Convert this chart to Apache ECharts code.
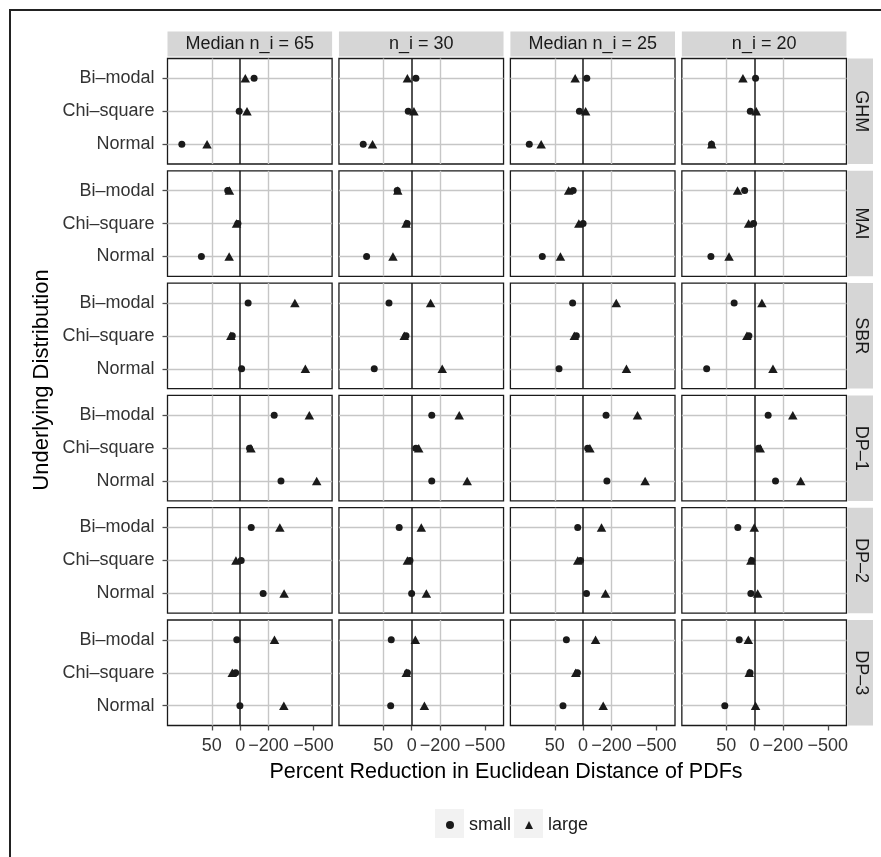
<!DOCTYPE html>
<html>
<head>
<meta charset="utf-8">
<script src="https://cdn.jsdelivr.net/npm/echarts@6/dist/echarts.min.js"></script>
<style>
html,body{margin:0;padding:0;background:#fff;}
#chart{width:881px;height:857px;}
</style>
</head>
<body>
<div id="chart"></div>
<script>
// ---------- data (x values on the axis' log2 distance-ratio scale) ----------
const COL_LABELS = ['Median n_i = 65', 'n_i = 30', 'Median n_i = 25', 'n_i = 20'];
const ROW_LABELS = ['GHM', 'MAI', 'SBR', 'DP\u20131', 'DP\u20132', 'DP\u20133'];
const DISTRIBUTIONS = ['Bi\u2013modal', 'Chi\u2013square', 'Normal'];
const X_TICK_VALUES = [-1, 0, 1, 2.585];
const X_TICK_LABELS = ['50', '0', '\u2212200', '\u2212500'];
const X_GRID_VALUES = [-1, 1];
const Y_POSITIONS = [0, 1, 2];

// each inner array = one column panel: [Bi-modal, Chi-square, Normal]
const GHM_small = [[0.49, -0.035, -2.06], [0.15, -0.12, -1.71], [0.13, -0.13, -1.90], [0.035, -0.15, -1.52]];
const GHM_large = [[0.18, 0.24, -1.17], [-0.15, 0.08, -1.38], [-0.28, 0.09, -1.48], [-0.41, 0.06, -1.51]];
const MAI_small = [[-0.44, -0.08, -1.37], [-0.51, -0.16, -1.59], [-0.35, 0.0, -1.44], [-0.35, -0.035, -1.54]];
const MAI_large = [[-0.38, -0.13, -0.39], [-0.49, -0.20, -0.66], [-0.51, -0.15, -0.80], [-0.60, -0.21, -0.90]];
const SBR_small = [[0.28, -0.28, 0.05], [-0.80, -0.20, -1.32], [-0.37, -0.24, -0.85], [-0.72, -0.20, -1.69]];
const SBR_large = [[1.93, -0.33, 2.30], [0.67, -0.26, 1.08], [1.17, -0.31, 1.53], [0.26, -0.27, 0.65]];
const DP1_small = [[1.20, 0.33, 1.44], [0.71, 0.15, 0.71], [0.81, 0.16, 0.84], [0.48, 0.14, 0.74]];
const DP1_large = [[2.44, 0.38, 2.70], [1.68, 0.25, 1.96], [1.92, 0.24, 2.19], [1.35, 0.20, 1.63]];
const DP2_small = [[0.39, 0.035, 0.81], [-0.44, -0.06, 0.0], [-0.19, -0.09, 0.12], [-0.59, -0.10, -0.13]];
const DP2_large = [[1.40, -0.15, 1.55], [0.34, -0.15, 0.52], [0.65, -0.19, 0.79], [-0.01, -0.13, 0.11]];
const DP3_small = [[-0.12, -0.16, -0.01], [-0.72, -0.15, -0.74], [-0.59, -0.20, -0.71], [-0.54, -0.16, -1.05]];
const DP3_large = [[1.21, -0.28, 1.54], [0.13, -0.19, 0.45], [0.44, -0.26, 0.71], [-0.22, -0.19, 0.035]];

const SMALL = [GHM_small, MAI_small, SBR_small, DP1_small, DP2_small, DP3_small];
const LARGE = [GHM_large, MAI_large, SBR_large, DP1_large, DP2_large, DP3_large];

// ---------- layout ----------
const FONT = "'Liberation Sans', Arial, Helvetica, sans-serif";
const LEFT0 = 167.5, COL_STEP = 171.45, PANEL_W = 164.6;
const TOP0 = 58.5, ROW_STEP = 112.3, PANEL_H = 105.5;
const X_MIN = -2.566, X_MAX = 3.244;
const INK = '#1a1a1a';

function tickLabel(v) {
  let best = 0, d = Infinity;
  X_TICK_VALUES.forEach((t, i) => { const dd = Math.abs(t - v); if (dd < d) { d = dd; best = i; } });
  return X_TICK_LABELS[best];
}

const grids = [], xAxes = [], yAxes = [], series = [], graphics = [];

for (let r = 0; r < ROW_LABELS.length; r++) {
  for (let c = 0; c < COL_LABELS.length; c++) {
    const idx = r * COL_LABELS.length + c;
    const left = LEFT0 + c * COL_STEP;
    const top = TOP0 + r * ROW_STEP;
    grids.push({
      left: left, top: top, width: PANEL_W, height: PANEL_H,
      show: true, borderColor: INK, borderWidth: 1.3, backgroundColor: '#fff'
    });
    xAxes.push({
      type: 'value', gridIndex: idx, min: X_MIN, max: X_MAX, position: 'bottom',
      axisLine: { show: false, onZero: false }, splitLine: { show: false },
      axisTick: { show: r === ROW_LABELS.length - 1, customValues: X_TICK_VALUES, length: 5, lineStyle: { color: '#4d4d4d', width: 1.3 } },
      axisLabel: { show: r === ROW_LABELS.length - 1, customValues: X_TICK_VALUES, formatter: tickLabel, margin: 12, fontSize: 18, color: '#333', fontFamily: FONT }
    });
    yAxes.push({
      type: 'value', gridIndex: idx, inverse: true, min: -0.6, max: 2.6, position: 'left',
      axisLine: { show: false, onZero: false }, splitLine: { show: false },
      axisTick: { show: c === 0, customValues: Y_POSITIONS, length: 5, lineStyle: { color: '#4d4d4d', width: 1.3 } },
      axisLabel: { show: c === 0, customValues: Y_POSITIONS, formatter: v => DISTRIBUTIONS[Math.round(v)], margin: 13, fontSize: 18, color: '#333', fontFamily: FONT }
    });
    const guideLines = [];
    Y_POSITIONS.forEach(y => guideLines.push({ yAxis: y, lineStyle: { color: '#c6c6c6', width: 1.4, type: 'solid' } }));
    X_GRID_VALUES.forEach(x => guideLines.push({ xAxis: x, lineStyle: { color: '#c6c6c6', width: 1.4, type: 'solid' } }));
    guideLines.push({ xAxis: 0, lineStyle: { color: INK, width: 1.5, type: 'solid' } });
    series.push({
      type: 'line', name: 'guides', xAxisIndex: idx, yAxisIndex: idx, data: [], silent: true,
      markLine: { z: 1, silent: true, symbol: ['none', 'none'], label: { show: false }, emphasis: { disabled: true }, animation: false, data: guideLines }
    });
    series.push({
      type: 'scatter', name: 'small', xAxisIndex: idx, yAxisIndex: idx, z: 3,
      symbol: 'circle', symbolSize: 7, itemStyle: { color: INK, opacity: 1 },
      data: SMALL[r][c].map((v, i) => [v, Y_POSITIONS[i]])
    });
    series.push({
      type: 'scatter', name: 'large', xAxisIndex: idx, yAxisIndex: idx, z: 4,
      symbol: 'triangle', symbolSize: [9.5, 8.5], itemStyle: { color: INK, opacity: 1 },
      data: LARGE[r][c].map((v, i) => [v, Y_POSITIONS[i]])
    });
  }
}

// column strips
COL_LABELS.forEach((lab, c) => {
  const left = LEFT0 + c * COL_STEP;
  graphics.push({ type: 'rect', shape: { x: left, y: 31.5, width: PANEL_W, height: 25 }, style: { fill: '#d6d6d6' }, silent: true });
  graphics.push({ type: 'text', x: left + PANEL_W / 2, y: 44.5, style: { text: lab, fill: INK, font: '18px ' + FONT, textAlign: 'center', textVerticalAlign: 'middle' }, silent: true });
});
// row strips
ROW_LABELS.forEach((lab, r) => {
  const top = TOP0 + r * ROW_STEP;
  graphics.push({ type: 'rect', shape: { x: 847.5, y: top, width: 25.5, height: PANEL_H }, style: { fill: '#d6d6d6' }, silent: true });
  graphics.push({ type: 'text', x: 860.5, y: top + PANEL_H / 2, rotation: -Math.PI / 2, style: { text: lab, fill: INK, font: '18px ' + FONT, textAlign: 'center', textVerticalAlign: 'middle' }, silent: true });
});
// axis titles
graphics.push({ type: 'text', x: 506, y: 772, style: { text: 'Percent Reduction in Euclidean Distance of PDFs', fill: '#000', font: '21.5px ' + FONT, textAlign: 'center', textVerticalAlign: 'middle' }, silent: true });
graphics.push({ type: 'text', x: 42, y: 380, rotation: Math.PI / 2, style: { text: 'Underlying Distribution', fill: '#000', font: '22px ' + FONT, textAlign: 'center', textVerticalAlign: 'middle' }, silent: true });
// legend key boxes
graphics.push({ type: 'rect', shape: { x: 435, y: 809, width: 29, height: 29 }, style: { fill: '#f2f2f2' }, silent: true, z: -1 });
graphics.push({ type: 'rect', shape: { x: 514, y: 809, width: 29, height: 29 }, style: { fill: '#f2f2f2' }, silent: true, z: -1 });
// outer frame (clipped at right and bottom)
graphics.push({ type: 'polyline', shape: { points: [[10, 857], [10, 10], [881, 10]] }, style: { stroke: '#222', lineWidth: 2, fill: null }, silent: true });

const chart = echarts.init(document.getElementById('chart'), null, { renderer: 'canvas' });
chart.setOption({
  animation: false,
  backgroundColor: '#fff',
  textStyle: { fontFamily: FONT },
  grid: grids,
  xAxis: xAxes,
  yAxis: yAxes,
  legend: {
    data: [{ name: 'small', icon: 'circle' }, { name: 'large', icon: 'triangle' }],
    left: 446, top: 816, padding: 0, itemGap: 14, itemWidth: 8, itemHeight: 8,
    selectedMode: false,
    textStyle: { fontSize: 18, color: INK, fontFamily: FONT, padding: [0, 0, 0, 10] }
  },
  graphic: graphics,
  series: series
});
</script>
</body>
</html>
